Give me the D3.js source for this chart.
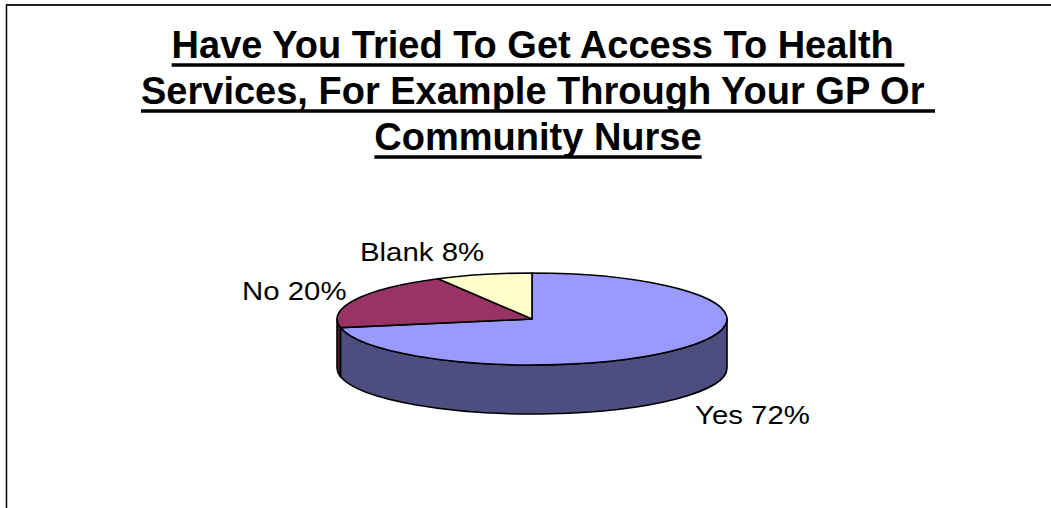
<!DOCTYPE html>
<html>
<head>
<meta charset="utf-8">
<script src="https://cdn.jsdelivr.net/npm/d3@7"></script>
<style>
  body { margin: 0; background: #fff; }
  text { font-family: Arial, "Liberation Sans", sans-serif; }
</style>
</head>
<body>
<div id="chart"></div>
<script>
// data
const categories = ["Yes", "No", "Blank"];
const percents = [72, 20, 8];
const topColors = ["#9999ff", "#993366", "#ffffcc"];
const sideColors = ["#4d4d80", "#4d1a33", "#80805f"];
const titleLines = ["Have You Tried To Get Access To Health ", "Services, For Example Through Your GP Or ", "Community Nurse"];

const W = 1051, H = 508;
const cx = 532, cy = 319, rx = 195, ry = 46, depth = 49;
const k = ry / rx;

const svg = d3.select("#chart").append("svg")
    .attr("width", W)
    .attr("height", H);

// frame (only top and left edges show)
svg.append("line").attr("x1", 6).attr("y1", 5).attr("x2", W).attr("y2", 5)
    .attr("stroke", "#222").attr("stroke-width", 2);
svg.append("line").attr("x1", 6.5).attr("y1", 4).attr("x2", 6.5).attr("y2", H)
    .attr("stroke", "#000").attr("stroke-width", 1.5);

// title, bold + underlined
const title = svg.append("g");
titleLines.forEach((t, i) => {
    const txt = title.append("text")
        .attr("x", 538)
        .attr("y", 58 + i * 46)
        .attr("text-anchor", "middle")
        .style("font-size", "38px")
        .style("font-weight", "bold")
        .style("white-space", "pre")
        .attr("xml:space", "preserve")
        .text(t);
    const len = txt.node().getComputedTextLength();
    title.append("line")
        .attr("x1", 538 - len / 2).attr("x2", 538 + len / 2)
        .attr("y1", 65 + i * 46).attr("y2", 65 + i * 46)
        .attr("stroke", "#000").attr("stroke-width", 3.5);
});

const data = categories.map((c, i) => ({ name: c, value: percents[i], i: i }));
const pie = d3.pie().sort(null).value(d => d.value);
const arcs = pie(data);

// the pie lives in a vertically squashed group
const g = svg.append("g")
    .attr("transform", "translate(" + cx + "," + cy + ") scale(1," + k + ")");

const D = depth / k;
// side walls: only the front half (pi/2 .. 3pi/2) is visible
arcs.forEach(a => {
    const s = Math.max(a.startAngle, Math.PI / 2);
    const e = Math.min(a.endAngle, 3 * Math.PI / 2);
    if (e <= s) return;
    const p = d3.path();
    p.moveTo(rx * Math.cos(s - Math.PI / 2), rx * Math.sin(s - Math.PI / 2));
    p.arc(0, 0, rx, s - Math.PI / 2, e - Math.PI / 2);
    p.lineTo(rx * Math.cos(e - Math.PI / 2), rx * Math.sin(e - Math.PI / 2) + D);
    p.arc(0, D, rx, e - Math.PI / 2, s - Math.PI / 2, true);
    p.closePath();
    g.append("path")
        .attr("d", p.toString())
        .attr("fill", sideColors[a.data.i])
        .attr("stroke", "#000")
        .attr("stroke-width", 1.6)
        .attr("stroke-linejoin", "round")
        .attr("vector-effect", "non-scaling-stroke");
});

const arc = d3.arc().innerRadius(0).outerRadius(rx);
g.selectAll(".slice")
    .data(arcs)
    .enter().append("path")
    .attr("class", "slice")
    .attr("d", arc)
    .attr("fill", d => topColors[d.data.i])
    .attr("stroke", "#000")
    .attr("stroke-width", 1.6)
    .attr("stroke-linejoin", "round")
    .attr("vector-effect", "non-scaling-stroke");

// labels
const labelPos = { Yes: [695, 424], No: [242, 300], Blank: [360, 261] };
data.forEach(d => {
    const [lx, ly] = labelPos[d.name];
    svg.append("text")
        .attr("transform", "translate(" + lx + "," + ly + ") scale(1.13,1)")
        .style("font-size", "26px")
        .attr("fill", "#000")
        .text(d.name + " " + d.value + "%");
});
</script>
</body>
</html>
